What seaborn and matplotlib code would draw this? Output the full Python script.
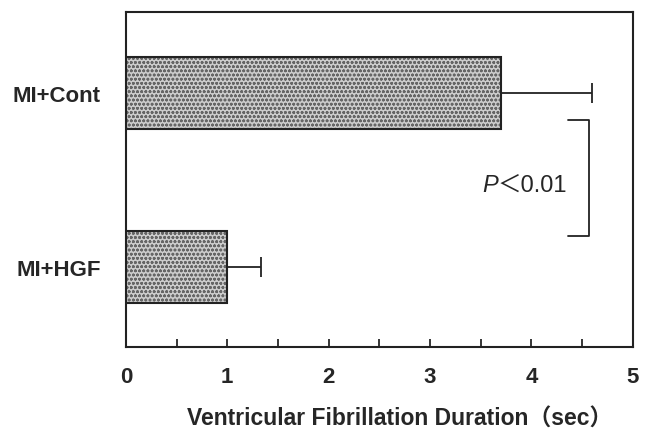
import numpy as np
import pandas as pd
import matplotlib
matplotlib.use("Agg")
import matplotlib.pyplot as plt
import matplotlib.colors as mcolors
from matplotlib.ticker import MultipleLocator
import seaborn as sns

# Data
groups = ["MI+Cont", "MI+HGF"]
vf_duration = [3.7, 1.0]      # sec
vf_sem = [0.9, 0.33]          # upper error only
p_label = "＜0.01"

sns.set_style("white")
plt.rcParams["font.family"] = ["Liberation Sans", "Noto Sans CJK JP"]
plt.rcParams["hatch.linewidth"] = 0.8

df = pd.DataFrame({"group": groups, "vf": vf_duration, "sem": vf_sem})

fig = plt.figure(figsize=(6.49, 4.35), dpi=100)
ax = fig.add_axes([0.194, 0.2, 0.781, 0.77])

sns.barplot(data=df, x="vf", y="group", orient="h", color="#cccccc",
            saturation=1, width=0.415, edgecolor="#222222", linewidth=1.5,
            hatch="oooo", ax=ax, errorbar=None)
for p in ax.patches:
    p._hatch_color = mcolors.to_rgba("#666666")

# one-sided error bars
ypos = np.arange(len(groups))
ax.errorbar(df["vf"], ypos, xerr=[np.zeros(len(groups)), df["sem"]],
            fmt="none", ecolor="#222222", elinewidth=1.3, capsize=7, capthick=1.3)

# significance bracket
ax.plot([4.36, 4.57, 4.57, 4.36], [0.156, 0.156, 0.824, 0.824],
        color="#222222", lw=1.3)
ax.text(3.67, 0.53, "P", style="italic", fontsize=17, ha="right", va="center")
ax.text(3.67, 0.53, p_label, fontsize=17, ha="left", va="center")

ax.set_xlim(0, 5)
ax.set_ylim(1.464, -0.467)
ax.xaxis.set_major_locator(MultipleLocator(1))
ax.xaxis.set_minor_locator(MultipleLocator(0.5))
ax.tick_params(axis="x", which="both", direction="in", length=6, width=1.3,
               bottom=True, pad=14, labelsize=16)
ax.tick_params(axis="y", length=0, pad=18, labelsize=16)
for lab in ax.get_xticklabels() + ax.get_yticklabels():
    lab.set_fontweight("bold")
for s in ax.spines.values():
    s.set_linewidth(1.5)
    s.set_color("#222222")

ax.set_ylabel("")
ax.set_xlabel("Ventricular Fibrillation Duration（sec）", fontsize=16.5,
              fontweight="bold", labelpad=14)
ax.xaxis.label.set_x(0.54)

fig.savefig("out.png", dpi=100)
